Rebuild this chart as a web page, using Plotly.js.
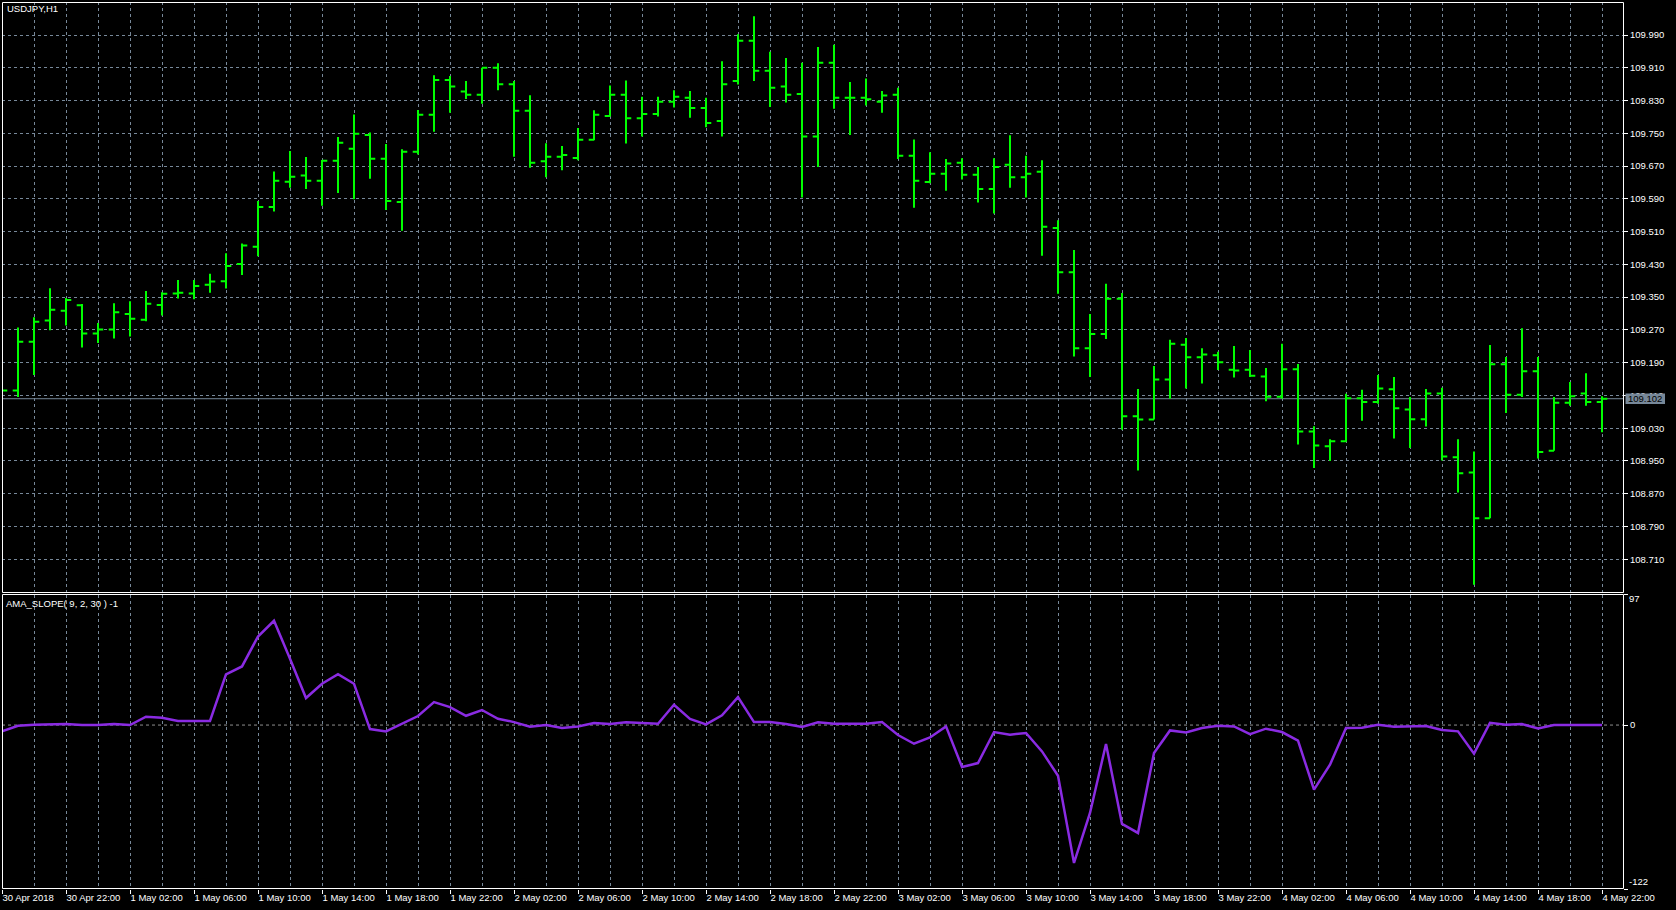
<!DOCTYPE html>
<html>
<head>
<meta charset="utf-8">
<script src="https://cdn.plot.ly/plotly-3.0.1.min.js"></script>
<style>
  html, body { margin: 0; padding: 0; background: #000; }
  #chart { width: 1676px; height: 910px; }
</style>
</head>
<body>
<div id="chart"></div>
<script>
// ---- data (USDJPY H1, 30 Apr 2018 18:00 .. 4 May 2018 22:00) ----
const opens = [109.120,109.122,109.241,109.293,109.317,109.330,109.261,109.271,109.309,109.295,
109.331,109.359,109.359,109.380,109.389,109.431,109.473,109.570,109.632,109.647,
109.634,109.683,109.712,109.746,109.688,109.582,109.705,109.795,109.880,109.852,
109.844,109.910,109.870,109.805,109.682,109.693,109.690,109.734,109.792,109.844,
109.787,109.797,109.827,109.837,109.812,109.780,109.878,109.976,109.903,109.864,
109.846,109.742,109.922,109.837,109.837,109.827,109.844,109.695,109.631,109.651,
109.678,109.649,109.614,109.673,109.643,109.656,109.519,109.411,109.225,109.260,
109.346,109.059,109.051,109.149,109.234,109.203,109.208,109.173,109.173,109.156,
109.107,109.174,109.022,108.986,108.998,109.103,109.094,109.125,109.076,109.052,
109.115,108.959,108.922,108.810,109.186,109.112,109.169,108.975,109.092,109.115,
109.094];
const highs = [109.130,109.276,109.301,109.372,109.348,109.333,109.287,109.335,109.340,109.365,
109.362,109.392,109.392,109.407,109.457,109.481,109.585,109.657,109.707,109.692,
109.685,109.741,109.796,109.752,109.724,109.711,109.807,109.892,109.890,109.878,
109.910,109.921,109.878,109.843,109.726,109.719,109.763,109.806,109.867,109.879,
109.839,109.839,109.855,109.853,109.837,109.926,109.992,110.036,109.949,109.934,
109.922,109.961,109.966,109.875,109.884,109.853,109.861,109.735,109.704,109.687,
109.689,109.668,109.689,109.745,109.695,109.684,109.538,109.465,109.309,109.383,
109.360,109.126,109.182,109.246,109.250,109.225,109.217,109.231,109.221,109.177,
109.236,109.187,109.035,109.003,109.114,109.124,109.160,109.155,109.106,109.126,
109.129,109.003,108.973,109.233,109.204,109.274,109.204,109.106,109.143,109.164,
109.108];
const lows = [109.110,109.106,109.160,109.269,109.281,109.227,109.238,109.249,109.254,109.291,
109.305,109.347,109.345,109.361,109.371,109.404,109.450,109.559,109.617,109.614,
109.573,109.604,109.589,109.639,109.563,109.512,109.698,109.754,109.800,109.834,
109.822,109.855,109.693,109.666,109.643,109.660,109.684,109.733,109.791,109.725,
109.742,109.791,109.813,109.788,109.765,109.742,109.869,109.878,109.814,109.825,
109.593,109.668,109.810,109.746,109.818,109.800,109.687,109.568,109.628,109.610,
109.637,109.581,109.554,109.617,109.593,109.451,109.358,109.205,109.155,109.248,
109.026,108.927,109.051,109.102,109.127,109.139,109.172,109.154,109.155,109.096,
109.102,108.990,108.933,108.950,108.997,109.048,109.090,109.005,108.982,109.034,
108.951,108.873,108.648,108.810,109.067,109.106,108.956,108.975,109.085,109.085,
109.020];
const closes = [109.122,109.241,109.290,109.319,109.343,109.261,109.271,109.313,109.297,109.334,
109.358,109.361,109.377,109.388,109.426,109.476,109.570,109.634,109.644,109.634,
109.683,109.727,109.749,109.688,109.585,109.705,109.795,109.880,109.864,109.844,
109.910,109.870,109.805,109.678,109.693,109.697,109.734,109.795,109.844,109.787,
109.797,109.827,109.839,109.812,109.775,109.870,109.976,109.903,109.861,109.844,
109.742,109.922,109.837,109.837,109.833,109.842,109.695,109.634,109.651,109.676,
109.649,109.614,109.668,109.643,109.651,109.522,109.411,109.225,109.260,109.346,
109.059,109.051,109.149,109.236,109.203,109.210,109.191,109.171,109.158,109.107,
109.174,109.022,108.988,108.998,109.103,109.094,109.127,109.079,109.052,109.115,
108.961,108.920,108.810,109.186,109.112,109.169,108.972,109.092,109.108,109.094,
109.102];
const amaSlope = [-4.7,-0.5,0.2,0.7,0.7,0,0,0.7,0,6.2,
5.5,3.0,3.0,3.0,37.7,43.6,65.9,77.6,49.3,20.1,
30.7,37.9,30.7,-3.0,-4.7,1.0,6.7,17.1,13.4,6.9,
11.2,4.7,2.2,-1.2,0,-2.2,-1.0,1.5,0.7,2.0,
1.5,1.0,15.1,4.5,0.5,7.2,20.8,2.2,2.2,0.7,
-1.5,2.0,1.0,1.0,1.0,2.2,-7.4,-13.9,-9.2,-1.0,
-31.2,-28.3,-5.2,-7.2,-5.9,-19.6,-37.7,-102.6,-65.4,-14.1,
-73.6,-80.3,-20.8,-4.0,-5.5,-2.2,-0.5,-1.0,-6.7,-2.7,
-5.2,-11.6,-48.1,-29.5,-2.2,-2.0,0.2,-1.2,-1.2,-0.7,
-3.7,-4.7,-21.3,1.7,0.2,0.7,-2.5,0,0,0,
0];
const timeLabels = ["30 Apr 2018","30 Apr 22:00","1 May 02:00","1 May 06:00","1 May 10:00","1 May 14:00",
"1 May 18:00","1 May 22:00","2 May 02:00","2 May 06:00","2 May 10:00","2 May 14:00","2 May 18:00",
"2 May 22:00","3 May 02:00","3 May 06:00","3 May 10:00","3 May 14:00","3 May 18:00","3 May 22:00",
"4 May 02:00","4 May 06:00","4 May 10:00","4 May 14:00","4 May 18:00","4 May 22:00"];
const priceTicks = [108.71,108.79,108.87,108.95,109.03,109.11,109.19,109.27,109.35,109.43,109.51,
109.59,109.67,109.75,109.83,109.91,109.99];
const priceTickLabels = ["108.710","108.790","108.870","108.950","109.030","109.110","109.190","109.270",
"109.350","109.430","109.510","109.590","109.670","109.750","109.830","109.910","109.990"];
const slopeTicks = [97, 0, -122];
const symbolLabel = "USDJPY,H1";
const indicatorLabel = "AMA_SLOPE( 9, 2, 30 ) -1";

// ---- bar positions (one bar per hour) ----
const barIdx = opens.map((_, i) => i);
const labelIdx = timeLabels.map((_, k) => k * 4);
const minorIdx = timeLabels.slice(1).map((_, k) => k * 4 + 2);

// ---- geometry ----
const W = 1676, H = 910;
const mL = 2, mR = 53, mT = 2, mB = 21;
const plotW = W - mL - mR, plotH = H - mT - mB;
const px2paperX = px => (px - mL) / plotW;
const px2paperY = py => (H - mB - py) / plotH;
const mainDomain = [px2paperY(592.3), 1];
const indDomain = [0, px2paperY(594.7)];
const xRange = [0, plotW / 16];

const GRID = '#778899';
const FONT = 'Liberation Sans, Arial, sans-serif';
const bid = closes[closes.length - 1];
const pxPerPrice = 409.6;

const traces = [
  {
    type: 'ohlc', x: barIdx, open: opens, high: highs, low: lows, close: closes,
    xaxis: 'x', yaxis: 'y', tickwidth: 0.33, hoverinfo: 'skip',
    increasing: {line: {color: '#00ff00', width: 2}},
    decreasing: {line: {color: '#00ff00', width: 2}}
  },
  {
    type: 'scatter', mode: 'lines', x: barIdx, y: amaSlope, xaxis: 'x', yaxis: 'y2',
    line: {color: '#8a2be2', width: 2.5}, hoverinfo: 'skip'
  }
];

const layout = {
  width: W, height: H,
  margin: {l: mL, r: mR, t: mT, b: mB, pad: 0},
  paper_bgcolor: '#000', plot_bgcolor: '#000',
  showlegend: false,
  font: {family: FONT, size: 9.5, color: '#ffffff'},
  xaxis: {
    domain: [0, 1], anchor: 'y2', range: xRange, fixedrange: true,
    rangeslider: {visible: false},
    tickmode: 'array', tickvals: labelIdx, ticktext: timeLabels,
    ticks: 'outside', ticklen: 4, tickwidth: 1, tickcolor: '#ffffff',
    ticklabelposition: 'outside right',
    tickfont: {family: FONT, size: 9.5, color: '#ffffff'},
    showgrid: true, gridcolor: GRID, griddash: 'dot', gridwidth: 1,
    minor: {tickmode: 'array', tickvals: minorIdx, showgrid: true, gridcolor: GRID, griddash: 'dot', gridwidth: 1, ticks: ''},
    zeroline: false, showline: false
  },
  yaxis: {
    domain: mainDomain, anchor: 'x', side: 'right', fixedrange: true,
    range: [108.71 - 33 / pxPerPrice, 109.99 + 33 / pxPerPrice],
    tickmode: 'array', tickvals: priceTicks, ticktext: priceTickLabels,
    ticks: 'outside', ticklen: 4, tickwidth: 1, tickcolor: '#ffffff',
    tickfont: {family: FONT, size: 9.5, color: '#ffffff'},
    showgrid: true, gridcolor: GRID, griddash: 'dot', gridwidth: 1,
    zeroline: false, showline: false
  },
  yaxis2: {
    domain: indDomain, anchor: 'x', side: 'right', fixedrange: true,
    range: [slopeTicks[2], slopeTicks[0]],
    tickmode: 'array', tickvals: slopeTicks, ticktext: ['', '0', ''],
    ticks: 'outside', ticklen: 4, tickwidth: 1, tickcolor: '#ffffff',
    tickfont: {family: FONT, size: 9.5, color: '#ffffff'},
    showgrid: false, zeroline: false, showline: false
  },
  shapes: [
    // zero level of the indicator
    {type: 'line', xref: 'x', yref: 'y2', x0: xRange[0], x1: xRange[1], y0: 0, y1: 0,
     line: {color: '#8f8f8f', width: 1, dash: 'dot'}, layer: 'between'},
    // bid line
    {type: 'line', xref: 'x', yref: 'y', x0: xRange[0], x1: xRange[1], y0: bid, y1: bid,
     line: {color: GRID, width: 1}, layer: 'between'},
    // panel frames
    {type: 'rect', xref: 'paper', yref: 'paper',
     x0: px2paperX(2.5), x1: px2paperX(1623.5), y0: px2paperY(592.5), y1: px2paperY(2.5),
     line: {color: '#ffffff', width: 1}, fillcolor: 'rgba(0,0,0,0)', layer: 'above'},
    {type: 'rect', xref: 'paper', yref: 'paper',
     x0: px2paperX(2.5), x1: px2paperX(1623.5), y0: px2paperY(888.5), y1: px2paperY(594.5),
     line: {color: '#ffffff', width: 1}, fillcolor: 'rgba(0,0,0,0)', layer: 'above'},
    // bid price box
    {type: 'rect', xref: 'paper', yref: 'y',
     x0: px2paperX(1625.5), x1: px2paperX(1665), y0: bid - 5.2 / pxPerPrice, y1: bid + 5.2 / pxPerPrice,
     line: {width: 0}, fillcolor: GRID, layer: 'above'}
  ],
  annotations: [
    {xref: 'paper', yref: 'paper', x: px2paperX(5), y: px2paperY(9), xanchor: 'left', yanchor: 'middle',
     text: symbolLabel, showarrow: false, font: {family: FONT, size: 9.5, color: '#ffffff'}},
    {xref: 'paper', yref: 'paper', x: px2paperX(4), y: px2paperY(603), xanchor: 'left', yanchor: 'middle',
     text: indicatorLabel, showarrow: false, font: {family: FONT, size: 9.5, color: '#ffffff'}},
    {xref: 'paper', yref: 'y', x: px2paperX(1645.3), y: bid, xanchor: 'center', yanchor: 'middle',
     text: bid.toFixed(3), showarrow: false, font: {family: FONT, size: 9.5, color: '#000000'}},
    {xref: 'paper', yref: 'y2', x: px2paperX(1627), y: slopeTicks[0], xanchor: 'left', yanchor: 'top', yshift: 4,
     text: String(slopeTicks[0]), showarrow: false, font: {family: FONT, size: 9.5, color: '#ffffff'}},
    {xref: 'paper', yref: 'y2', x: px2paperX(1627), y: slopeTicks[2], xanchor: 'left', yanchor: 'bottom', yshift: 0,
     text: String(slopeTicks[2]), showarrow: false, font: {family: FONT, size: 9.5, color: '#ffffff'}}
  ]
};

Plotly.newPlot('chart', traces, layout, {staticPlot: true, displayModeBar: false});
</script>
</body>
</html>
